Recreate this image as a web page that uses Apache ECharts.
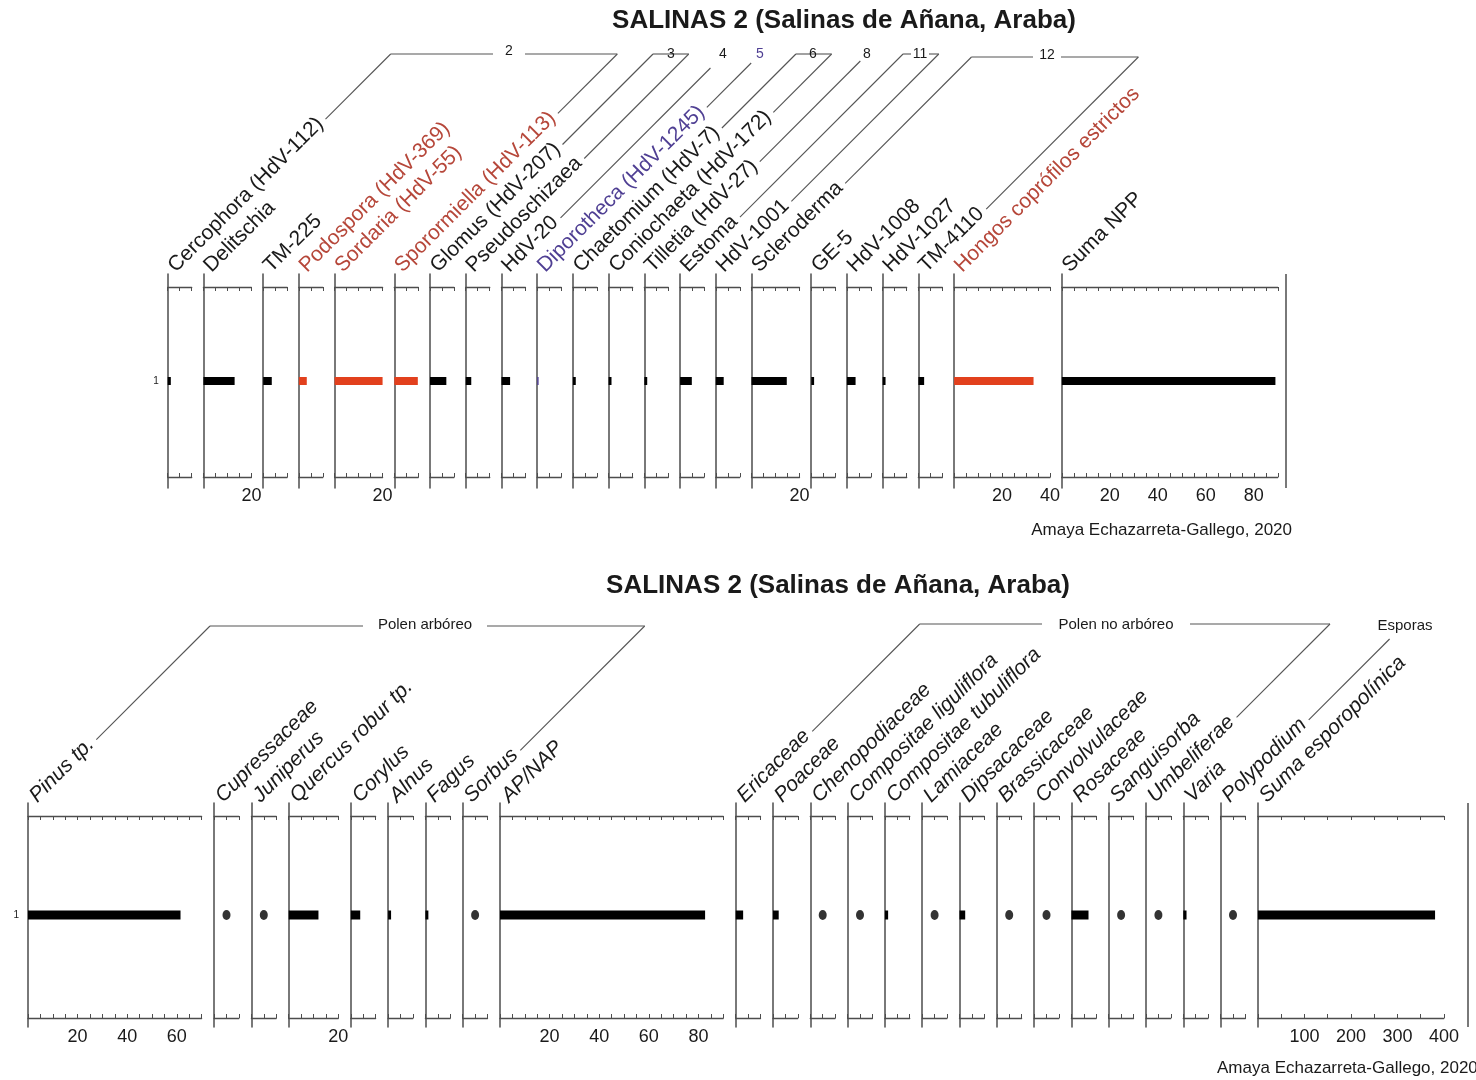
<!DOCTYPE html>
<html>
<head>
<meta charset="utf-8">
<script src="https://cdn.jsdelivr.net/npm/echarts@6/dist/echarts.min.js"></script>
<style>
  html, body { margin: 0; padding: 0; background: #ffffff; }
  #chart { width: 1476px; height: 1080px; }
</style>
</head>
<body>
<div id="chart"></div>
<script>
// ---------- Microfósiles no polínicos (NPP), nivel 1 ----------
const nppTaxones = ['Cercophora (HdV-112)', 'Delitschia', 'TM-225', 'Podospora (HdV-369)', 'Sordaria (HdV-55)',
  'Sporormiella (HdV-113)', 'Glomus (HdV-207)', 'Pseudoschizaea', 'HdV-20', 'Diporotheca (HdV-1245)',
  'Chaetomium (HdV-7)', 'Coniochaeta (HdV-172)', 'Tilletia (HdV-27)', 'Estoma', 'HdV-1001', 'Scleroderma',
  'GE-5', 'HdV-1008', 'HdV-1027', 'TM-4110', 'Hongos coprófilos estrictos', 'Suma NPP'];
const nppValores = [1.3, 13, 3.6, 3.3, 20, 9.8, 6.8, 2.3, 3.6, 0.6, 1.2, 1.2, 1.2, 4.9, 3.3, 14.7, 1.2, 3.6, 1.2, 2.4, 33.1, 89];
const nppEscalaMax = [10, 20, 10, 10, 20, 10, 10, 10, 10, 10, 10, 10, 10, 10, 10, 20, 10, 10, 10, 10, 40, 90];
const nppIntervalo = [5, 5, 5, 5, 5, 5, 5, 5, 5, 5, 5, 5, 5, 5, 5, 5, 5, 5, 5, 5, 5, 5];
const nppEtiquetas = [[], [20], [], [], [20], [], [], [], [], [], [], [], [], [], [], [20], [], [], [], [], [20, 40], [20, 40, 60, 80]];
// c = coprófilo, d = Diporotheca, n = resto
const nppClase = ['n', 'n', 'n', 'c', 'c', 'c', 'n', 'n', 'n', 'd', 'n', 'n', 'n', 'n', 'n', 'n', 'n', 'n', 'n', 'n', 'c', 'n'];
const nppGrupos = ['2', '3', '4', '5', '6', '8', '11', '12'];
const nppGrupoDesde = [0, 6, 8, 9, 10, 12, 13, 15];
const nppGrupoHasta = [5, 7, 8, 9, 11, 12, 14, 19];

// ---------- Polen y esporas, nivel 1 ----------
const polenTaxones = ['Pinus tp.', 'Cupressaceae', 'Juniperus', 'Quercus robur tp.', 'Corylus', 'Alnus', 'Fagus',
  'Sorbus', 'AP/NAP', 'Ericaceae', 'Poaceae', 'Chenopodiaceae', 'Compositae liguliflora', 'Compositae tubuliflora',
  'Lamiaceae', 'Dipsacaceae', 'Brassicaceae', 'Convolvulaceae', 'Rosaceae', 'Sanguisorba', 'Umbeliferae', 'Varia',
  'Polypodium', 'Suma esporopolínica'];
const polenValores = [61.5, 0.4, 0.4, 12, 3.8, 1.2, 1.2, 0.4, 82.7, 3, 2.3, 0.4, 0.4, 1.3, 0.4, 2.3, 0.4, 0.4, 6.9, 0.4, 0.4, 1.3, 0.4, 381];
const polenEscalaMax = [70, 10, 10, 20, 10, 10, 10, 10, 90, 10, 10, 10, 10, 10, 10, 10, 10, 10, 10, 10, 10, 10, 10, 400];
const polenIntervalo = [5, 5, 5, 5, 5, 5, 5, 5, 5, 5, 5, 5, 5, 5, 5, 5, 5, 5, 5, 5, 5, 5, 5, 50];
const polenEtiquetas = [[20, 40, 60], [], [], [20], [], [], [], [], [20, 40, 60, 80], [], [], [], [], [], [], [], [], [], [], [], [], [], [], [100, 200, 300, 400]];
const polenGrupos = ['Polen arbóreo', 'Polen no arbóreo', 'Esporas'];
const polenGrupoDesde = [0, 9, 22];
const polenGrupoHasta = [7, 20, 22];

// ---------- Estilo y disposición ----------
const FAMILIA = '"Liberation Sans", Arial, Helvetica, sans-serif';
const EJE = '#4d4d4d';
const TEXTO = '#1a1a1a';
const COLOR_TEXTO = { n: TEXTO, c: '#b6473a', d: '#4f3f93' };
const COLOR_BARRA = { n: '#000000', c: '#e2401d', d: '#4f3f93' };

const panelNpp = {
  x0: 167.7, top: 274, bottom: 488, ejeSup: 287, ejeInf: 477, px: 2.4, hueco: 11.72, grosor: 8,
  rotulo: 'normal', desvio: 3, punto: null, escala: {}, texto: [4, -5]
};
const panelPolen = {
  x0: 28, top: 803, bottom: 1027, ejeSup: 816, ejeInf: 1018, px: 2.48, hueco: 12.5, grosor: 9,
  rotulo: 'italic', desvio: 5, punto: 1, escala: { 23: 186 / 400 }, texto: [5, -4]
};
// posición de los rótulos de cada grupo: [x del texto, y de la línea, y del texto, medio hueco]
const nppGrupoSitio = [[509, 54, 51, 16], [671, 54, 54, 0], [723, 68, 54, 0], [760, 63, 54, 0],
  [813, 54, 54, 0], [867, 61, 54, 0], [920, 54, 54, 9], [1047, 57, 55, 14]];
const polenGrupoSitio = [[425, 626, 625, 62], [1116, 624, 625, 74], [1405, 639, 626, 0]];

const grids = [], xAxes = [], yAxes = [], series = [], graf = [];
const medidor = document.createElement('canvas').getContext('2d');
function ancho(texto, fuente) { medidor.font = fuente; return medidor.measureText(texto).width; }
const U = [Math.SQRT1_2, -Math.SQRT1_2];

function montarPanel(p, taxa, vals, maxs, ints, etiq, clases) {
  let x = p.x0;
  const info = [];
  taxa.forEach((nombre, k) => {
    const gi = grids.length;
    const ppu = p.escala[k] || p.px;
    const w = maxs[k] * ppu;
    grids.push({ left: x, top: p.top, width: w, height: p.bottom - p.top, containLabel: false, outerBoundsMode: 'none' });
    const lista = etiq[k];
    xAxes.push({
      type: 'value', gridIndex: gi, position: 'top', offset: -(p.ejeSup - p.top), min: 0, max: maxs[k], interval: ints[k],
      axisLine: { show: true, lineStyle: { color: EJE, width: 1.3 } },
      axisTick: { show: true, inside: true, length: 4, lineStyle: { color: EJE, width: 1 } },
      axisLabel: { show: false }, splitLine: { show: false }
    });
    xAxes.push({
      type: 'value', gridIndex: gi, position: 'bottom', offset: -(p.bottom - p.ejeInf), min: 0, max: maxs[k], interval: ints[k],
      axisLine: { show: true, lineStyle: { color: EJE, width: 1.3 } },
      axisTick: { show: true, inside: true, length: 4, lineStyle: { color: EJE, width: 1 } },
      axisLabel: {
        show: lista.length > 0, color: TEXTO, fontSize: 18, fontFamily: FAMILIA, margin: 10,
        formatter: v => (lista.indexOf(v) >= 0 ? String(v) : '')
      },
      splitLine: { show: false }
    });
    yAxes.push({
      type: 'category', gridIndex: gi, data: ['1'],
      axisLine: { show: true, onZero: false, lineStyle: { color: EJE, width: 1.5 } },
      axisTick: { show: false },
      axisLabel: { show: k === 0, color: TEXTO, fontSize: 10, fontFamily: FAMILIA, margin: 9 },
      splitLine: { show: false }
    });
    const clase = clases ? clases[k] : 'n';
    const v = vals[k];
    if (p.punto !== null && v < p.punto) {
      series.push({
        type: 'scatter', xAxisIndex: 2 * gi + 1, yAxisIndex: gi, symbol: 'circle', symbolSize: [8, 10],
        itemStyle: { color: COLOR_BARRA[clase] }, data: [[maxs[k] / 2, 0]], silent: true
      });
    } else {
      series.push({
        type: 'bar', xAxisIndex: 2 * gi + 1, yAxisIndex: gi, barWidth: p.grosor,
        itemStyle: { color: COLOR_BARRA[clase] }, data: [v], silent: true
      });
    }
    // rótulo inclinado a 45°, anclado en el punto medio de su primera letra
    const fuente = (p.rotulo === 'italic' ? 'italic ' : '') + '21px ' + FAMILIA;
    const mx = x + p.texto[0], my = p.top + p.texto[1];
    graf.push({
      type: 'text', x: mx, y: my, rotation: Math.PI / 4, silent: true,
      style: { text: nombre, fill: COLOR_TEXTO[clase], font: fuente, textAlign: 'left', textVerticalAlign: 'middle' }
    });
    // la línea de enlace sigue la misma diagonal desde el final del rótulo
    const c = x + p.top + p.desvio;
    const t = (c - mx - my) / 2;
    const largo = ancho(nombre, fuente) + 5;
    info.push({ c: c, sx: mx + t + U[0] * largo, sy: my + t + U[1] * largo });
    x += w + p.hueco;
  });
  return { info: info, fin: x - p.hueco };
}

function linea(x1, y1, x2, y2) {
  graf.push({ type: 'line', silent: true, shape: { x1: x1, y1: y1, x2: x2, y2: y2 },
    style: { stroke: '#555555', lineWidth: 1.1 } });
}

function montarGrupos(info, nombres, desde, hasta, sitio, tam, colores) {
  nombres.forEach((g, i) => {
    const [tx, ly, ty, hg] = sitio[i];
    const a = info[desde[i]], b = info[hasta[i]];
    const ax = a.c - ly;
    linea(a.sx, a.sy, ax, ly);
    if (hasta[i] !== desde[i]) {
      const bxTop = b.c - ly;
      linea(b.sx, b.sy, bxTop, ly);
      if (tx - hg > ax + 0.5) linea(ax, ly, tx - hg, ly);
      if (bxTop > tx + hg + 0.5) linea(tx + hg, ly, bxTop, ly);
    }
    graf.push({ type: 'text', x: tx, y: ty, silent: true,
      style: { text: g, fill: colores ? colores[i] : TEXTO, font: tam + 'px ' + FAMILIA, textAlign: 'center', textVerticalAlign: 'middle' } });
  });
}

const npp = montarPanel(panelNpp, nppTaxones, nppValores, nppEscalaMax, nppIntervalo, nppEtiquetas, nppClase);
montarGrupos(npp.info, nppGrupos, nppGrupoDesde, nppGrupoHasta, nppGrupoSitio, 14,
  nppGrupos.map(g => (g === '5' ? COLOR_TEXTO.d : TEXTO)));
const pol = montarPanel(panelPolen, polenTaxones, polenValores, polenEscalaMax, polenIntervalo, polenEtiquetas, null);
montarGrupos(pol.info, polenGrupos, polenGrupoDesde, polenGrupoHasta, polenGrupoSitio, 15, null);

// línea de cierre a la derecha de cada diagrama
graf.push({ type: 'line', silent: true, shape: { x1: 1286, y1: panelNpp.top, x2: 1286, y2: panelNpp.bottom }, style: { stroke: EJE, lineWidth: 1.5 } });
graf.push({ type: 'line', silent: true, shape: { x1: 1468, y1: panelPolen.top, x2: 1468, y2: panelPolen.bottom }, style: { stroke: EJE, lineWidth: 1.5 } });

// títulos y autoría
const titulo = 'SALINAS 2 (Salinas de Añana, Araba)';
graf.push({ type: 'text', x: 844, y: 21, silent: true, style: { text: titulo, fill: TEXTO, font: 'bold 26px ' + FAMILIA, textAlign: 'center', textVerticalAlign: 'middle' } });
graf.push({ type: 'text', x: 838, y: 586, silent: true, style: { text: titulo, fill: TEXTO, font: 'bold 26px ' + FAMILIA, textAlign: 'center', textVerticalAlign: 'middle' } });
const autoria = 'Amaya Echazarreta-Gallego, 2020';
graf.push({ type: 'text', x: 1292, y: 530, silent: true, style: { text: autoria, fill: TEXTO, font: '17px ' + FAMILIA, textAlign: 'right', textVerticalAlign: 'middle' } });
graf.push({ type: 'text', x: 1217, y: 1068, silent: true, style: { text: autoria, fill: TEXTO, font: '17px ' + FAMILIA, textAlign: 'left', textVerticalAlign: 'middle' } });

const chart = echarts.init(document.getElementById('chart'), null, { renderer: 'canvas', width: 1476, height: 1080 });
chart.setOption({
  animation: false,
  backgroundColor: '#ffffff',
  grid: grids,
  xAxis: xAxes,
  yAxis: yAxes,
  series: series,
  graphic: { elements: graf }
});
</script>
</body>
</html>
